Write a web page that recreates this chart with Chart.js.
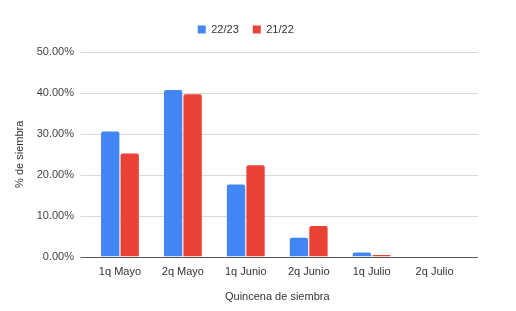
<!DOCTYPE html>
<html>
<head>
<meta charset="utf-8">
<script src="https://cdn.jsdelivr.net/npm/chart.js@4"></script>
<style>
  html, body { margin: 0; padding: 0; background: #fff; }
  #wrap { width: 516px; height: 311px; }
</style>
</head>
<body>
<div id="wrap"><canvas id="c"></canvas></div>
<script>
// datos
const categorias = ['1q Mayo', '2q Mayo', '1q Junio', '2q Junio', '1q Julio', '2q Julio'];
const serie2223  = [30.6, 40.7, 17.6, 4.6, 1.0, 0];
const serie2122  = [25.2, 39.7, 22.3, 7.5, 0.4, 0];
const yTicks     = [0, 10, 20, 30, 40, 50];

const FONT = 'Liberation Sans, Arial, sans-serif';

/* ── grilla horizontal más ancha que el área de barras ── */
const gridPlugin = {
  id: 'wideGrid',
  beforeDatasetsDraw(chart) {
    const { ctx, chartArea, scales } = chart;
    const x0 = chartArea.left - 8, x1 = chartArea.right + 12;
    ctx.save();
    yTicks.forEach(v => {
      const y = Math.round(scales.y.getPixelForValue(v)) + 0.5;
      ctx.strokeStyle = v === 0 ? '#555' : '#d9d9d9';
      ctx.lineWidth = v === 0 ? 1.2 : 1;
      ctx.beginPath(); ctx.moveTo(x0, y); ctx.lineTo(x1, y); ctx.stroke();
    });
    ctx.restore();
  },
  afterLayout(chart) {
    // leyenda: un poco a la derecha y más arriba, como en el original
    const lg = chart.legend;
    if (lg) { lg.left += 6; lg.right += 6; lg.top -= 7; lg.bottom -= 7; }
  },
};

new Chart(document.getElementById('c'), {
  type: 'bar',
  data: {
    labels: categorias,
    datasets: [
      { label: '22/23', data: serie2223, backgroundColor: '#4285F4', borderRadius: { topLeft: 2, topRight: 2 } },
      { label: '21/22', data: serie2122, backgroundColor: '#EA4335', borderRadius: { topLeft: 2, topRight: 2 } },
    ],
  },
  options: {
    responsive: true,
    maintainAspectRatio: false,
    animation: false,
    devicePixelRatio: 1,
    layout: { padding: { left: 13.5, right: 50, top: 17, bottom: 7 } },
    datasets: { bar: { categoryPercentage: 0.62, barPercentage: 0.94 } },
    plugins: {
      legend: {
        position: 'top',
        labels: {
          boxWidth: 8, boxHeight: 8, padding: 14,
          color: '#333', font: { family: FONT, size: 11 },
        },
      },
      tooltip: { enabled: false },
    },
    scales: {
      x: {
        grid: { display: false, drawTicks: false },
        border: { display: false },
        ticks: { color: '#333', font: { family: FONT, size: 11 }, padding: 9, maxRotation: 0 },
        title: { display: true, text: 'Quincena de siembra', color: '#333', font: { family: FONT, size: 11 }, padding: { top: 3, bottom: 0 } },
      },
      y: {
        min: 0, max: 50,
        grid: { display: false, drawTicks: false },
        border: { display: false },
        afterFit(scale) { scale.width = 75; },
        ticks: {
          stepSize: 10, color: '#444', padding: 14.5,
          font: { family: FONT, size: 11 },
          callback: v => v.toFixed(2) + '%',
        },
        title: { display: true, text: '% de siembra', color: '#333', font: { family: FONT, size: 11 }, padding: { top: 0, bottom: 8 } },
      },
    },
  },
  plugins: [gridPlugin],
});
</script>
</body>
</html>
